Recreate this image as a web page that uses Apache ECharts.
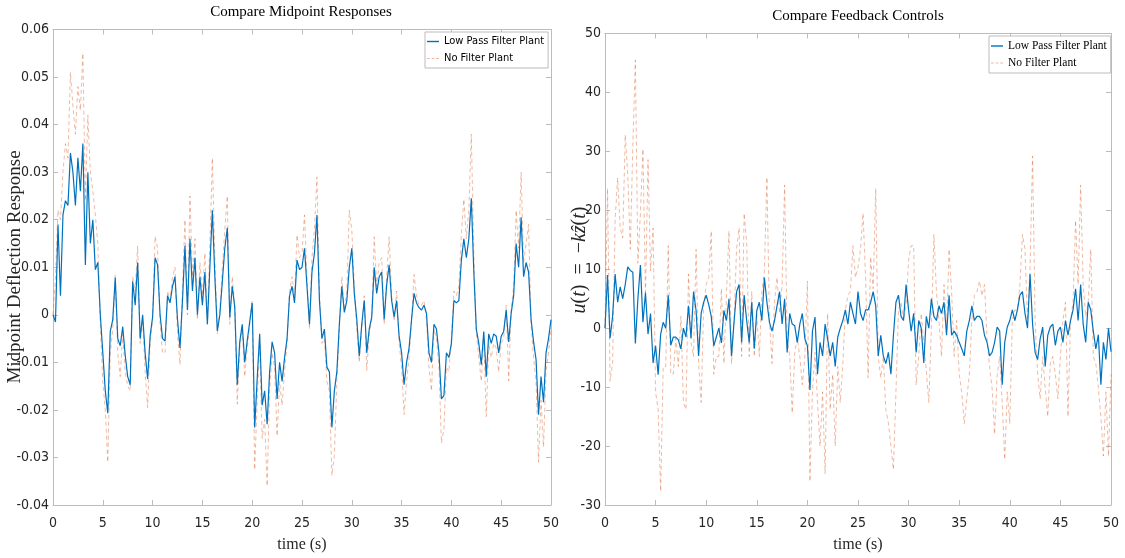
<!DOCTYPE html>
<html>
<head>
<meta charset="utf-8">
<script src="https://cdn.jsdelivr.net/npm/echarts@6/dist/echarts.min.js"></script>
<style>
  html, body { margin: 0; padding: 0; background: #fff; }
  #main { width: 1125px; height: 558px; }
</style>
</head>
<body>
<div id="main"></div>
<script>
// sample times (s), one every 0.25 s
var time = Array.from({ length: 201 }, function (_, i) { return i * 0.25; });

// left plot: midpoint deflection
var midLowPass = [
  0, -0.0015, 0.019, 0.004, 0.021, 0.024, 0.023, 0.034, 0.030, 0.023,
  0.033, 0.026, 0.036, 0.0105, 0.030, 0.015, 0.020, 0.0095, 0.011, 0,
  -0.008, -0.016, -0.0207, -0.0035, -0.001, 0.0078, -0.005, -0.0065, -0.0025, -0.0085,
  -0.013, -0.0147, 0.007, 0.002, 0.011, -0.005, 0, -0.008, -0.0135, -0.0045,
  -0.0005, 0.012, 0.0105, 0, -0.005, -0.0055, 0.004, 0.0025, 0.006, 0.008,
  -0.001, -0.007, 0.003, 0.0145, 0.001, 0.016, 0.005, 0.012, 0, 0.008,
  0.002, 0.009, -0.002, 0.010, 0.022, 0.008, -0.0034, 0, 0.007, 0.014,
  0.0183, -0.0005, 0.006, 0.0015, -0.0147, -0.0057, -0.002, -0.010, -0.0055, -0.0015,
  0.0025, -0.0237, -0.0135, -0.004, -0.019, -0.016, -0.023, -0.012, -0.0057, -0.008,
  -0.0177, -0.010, -0.014, -0.009, -0.005, 0.004, 0.006, 0.0025, 0.0115, 0.0095,
  0.010, 0.014, 0.006, -0.002, 0.009, 0.013, 0.021, 0.003, -0.005, -0.003,
  -0.011, -0.012, -0.0237, -0.016, -0.012, -0.002, 0.006, 0.0005, 0.003, 0.010,
  0.014, 0.0045, -0.001, -0.0087, -0.002, 0.003, -0.008, -0.003, -0.0005, 0.010,
  0.0045, 0.008, 0.009, -0.001, 0.0063, 0.0105, 0.003, -0.0005, 0.003, -0.0045,
  -0.008, -0.0147, -0.010, -0.007, -0.001, 0.0045, 0.0025, 0.0015, 0.001, 0.002,
  0.0003, -0.008, -0.010, -0.002, -0.003, -0.008, -0.0177, -0.017, -0.008, -0.009,
  -0.006, 0.003, 0.0025, 0.003, 0.0115, 0.016, 0.012, 0.016, 0.0245, 0.009,
  -0.003, -0.006, -0.0105, -0.0035, -0.013, -0.004, -0.006, -0.004, -0.0045, -0.008,
  -0.0045, -0.0035, 0.001, -0.0057, 0.0003, 0.004, 0.015, 0.010, 0.0205, 0.008,
  0.011, 0.009, -0.001, -0.0057, -0.0094, -0.021, -0.013, -0.0184, -0.008, -0.005, -0.001
];
var midNoFilter = [
  0, 0.008, 0.022, 0.020, 0.030, 0.036, 0.033, 0.051, 0.044, 0.038,
  0.048, 0.043, 0.055, 0.024, 0.042, 0.030, 0.026, 0.021, 0.015, -0.002,
  -0.014, -0.020, -0.031, -0.008, -0.003, 0.0085, -0.008, -0.013, -0.004, -0.012,
  -0.015, -0.016, 0.008, 0.005, 0.0145, -0.006, -0.001, -0.012, -0.0195, -0.006,
  -0.001, 0.0165, 0.014, -0.002, -0.008, -0.008, 0.005, 0.003, 0.008, 0.010,
  -0.004, -0.0105, 0.006, 0.020, 0, 0.025, 0.008, 0.016, -0.001, 0.011,
  0.004, 0.013, -0.002, 0.015, 0.033, 0.012, -0.004, 0.001, 0.010, 0.018,
  0.025, -0.002, 0.008, 0.002, -0.0188, -0.007, -0.003, -0.013, -0.007, -0.002,
  0.003, -0.0326, -0.018, -0.006, -0.026, -0.022, -0.036, -0.016, -0.008, -0.011,
  -0.0255, -0.014, -0.019, -0.012, -0.006, 0.005, 0.008, 0.004, 0.0168, 0.012,
  0.013, 0.021, 0.008, -0.003, 0.012, 0.018, 0.029, 0.005, -0.006, -0.005,
  -0.014, -0.016, -0.0338, -0.0296, -0.014, -0.003, 0.008, 0.001, 0.005, 0.022,
  0.018, 0.006, -0.003, -0.010, -0.003, 0.004, -0.0117, -0.004, -0.001, 0.0164,
  0.006, 0.011, 0.012, -0.002, 0.008, 0.0164, 0.004, -0.001, 0.005, -0.006,
  -0.011, -0.021, -0.014, -0.009, -0.001, 0.0085, 0.004, 0.002, 0.002, 0.003,
  -0.001, -0.011, -0.016, -0.003, -0.005, -0.011, -0.027, -0.024, -0.011, -0.012,
  -0.005, 0.005, 0.004, 0.006, 0.017, 0.0243, 0.016, 0.022, 0.038, 0.013,
  -0.004, -0.009, -0.014, -0.005, -0.0214, -0.006, -0.009, -0.006, -0.007, -0.012,
  -0.006, -0.005, 0.002, -0.0139, 0.001, 0.006, 0.022, 0.014, 0.030, 0.011,
  0.015, 0.019, -0.002, -0.009, -0.014, -0.031, -0.018, -0.0278, -0.012, -0.008, -0.003
];

// right plot: feedback control u(t)
var ctrlLowPass = [
  0, 9, -1.7, 2, 9.2, 4.4, 7, 5, 7.4, 10.4,
  9.8, 9.5, -2.6, 5, 10.7, 1, 6, -1, 2.5, -5.9,
  -3, -7.9, -1, 1, 0, 5.6, -2.9, -1.5, -1.5, -2,
  -3.5, 0, -1.5, 3.8, -1.7, 6.2, 3, -4.7, 2.5, 4.4,
  5.6, 4, 2, -3, -1.5, 0, -2.5, 3, 1.3, 5,
  -4.7, 1, 6.2, 7.4, -2.4, 5.6, 1.3, -2.4, 4.4, -3.5,
  3, 4.4, 1.3, 8.6, 4.4, 1, -0.5, 1.3, 3.8, 6.2,
  0.7, 5, -4.1, 2.5, 0.7, 0.4, -2.4, 0.7, 2.5, -1.8,
  -3, -10.5, -0.5, 1.9, -7.8, -2.4, -4.7, 0.7, -1.8, -4.7,
  -2.4, -6.5, -1.5, 0, 1.3, 3.1, 0.7, 4.4, 2.5, 0.7,
  6.2, 2.5, 1.3, 3.1, 3.1, 4.4, 6.2, 3.8, -4.7, -1.2,
  -4.7, -6, -4.1, -7.8, -1.2, 4.4, 5.6, 2, 1.3, 7.4,
  3.1, -0.5, 2.5, -4.1, 1.3, 0, -5.9, 2, 0, 5,
  2, 1.3, 3.8, 2.5, 4.4, -1.2, 5.6, -1.2, -0.5, -1.2,
  -2.4, -3.5, -4.7, -0.5, 1.3, 3.8, 1.3, 2, 2, 1.3,
  -1.2, -2.4, -4.7, -4.1, -2.4, 0.2, -0.5, -9.6, -2.4, 0.2,
  1.3, 3.1, 1.3, 3.1, 5.6, 6.2, 2.5, 0, 9.2, 0.7,
  -4.1, -5.3, -1.8, 0.2, -6.5, -1.2, 0.2, 0.7, -2.9, -0.5,
  0.2, -2.4, 1.3, -1.2, 1.3, 3.1, 6.7, 1.3, 7.4, 0.7,
  -2.4, 4.4, 3.1, -0.5, -3.5, -1.1, -9.6, -2.4, -5.3, 0, -4
];
var ctrlNoFilter = [
  0, 23.7, -9, -6, 18.3, 25.5, 17, 15.3, 32.8, 26,
  13.4, 31, 45.5, 11, 19.5, 30.4, 5.5, 28.6, 9.7, 17,
  -10.8, -13.8, -27.7, -6.5, -6.5, 14, -7.8, -7.8, -1.7, -6.5,
  2, -12.6, -13.8, 9.2, -2.4, -4.8, 13.4, -6, -12.6, 3.8,
  7.4, 8.6, 16.5, -7.8, -4.8, -4.8, 6.7, -6, 5.6, 16.5,
  -6, 1.3, 13.4, 17, -4.8, 19.5, 14.5, -4.8, 6.2, -4.8,
  2.5, -4.8, 6.2, 9.8, 25.6, 1.3, -6, 4.4, 8.6, 2.5,
  7.4, 24.3, -1.7, -4.8, -14.4, -4.1, -1.7, -4.8, -9.6, -4.8,
  8, -26, -10.8, -4.1, -12.6, -20, -10.8, -24.7, 2.5, -13.8,
  -7.8, -20, -6.5, -12.6, -6, 3.1, 5.5, 6.2, 14, 8.6,
  10.3, 13.4, 19.5, 8.6, -8.4, 12.1, 6.7, 23.7, -4.8, -8.4,
  -4.8, -13.8, -16, -20, -24, -10.8, 3.1, 4.4, 1.3, 3.8,
  11.6, 14, 14, -9.6, -4.8, 2.5, -2.4, -7.3, -12.6, 0.1,
  15.9, 6.2, 1.3, -4.8, 7.4, 0, 13.4, 6.2, -4.8, 1.3,
  -7.8, -10.8, -16.2, -12, -7.8, 1.3, 5.5, 6.2, 8, 5.5,
  7.4, -1.7, -6.5, -10.2, -18, -8, -4.8, -12.6, -22.3, -10.8,
  -16.2, 1.3, 3.1, 3.1, 7.4, 15.9, 13.4, 1.3, 10.3, 29.2,
  1.3, -7.8, -12, -4.8, -10.2, -15, -6, -4.8, -7.8, -12,
  -4.8, 1.3, 4.4, -15, 1.3, 4.4, 18.3, 7.4, 24.3, 7.4,
  2, 4.4, 13.4, -4.8, -6, -10, -15, -21.7, -10.8, -21.7, -7.8
];

var seriesNames = ['Low Pass Filter Plant', 'No Filter Plant'];
var titles = ['Compare Midpoint Responses', 'Compare Feedback Controls'];

var tickFont = "'DejaVu Sans Condensed', 'Liberation Sans', sans-serif";
var serif = "'Liberation Serif', 'DejaVu Serif', serif";
var axisGrey = '#bcbcbc';
var blue = '#0072BD';
var orange = '#D95319';
var paleOrange = '#efb8a0';

function pairs(vals) {
  return time.map(function (t, i) { return [t, vals[i]]; });
}

function xAxes(gi) {
  var base = {
    type: 'value', gridIndex: gi, min: 0, max: 50, interval: 5,
    axisLine: { show: true, onZero: false, lineStyle: { color: axisGrey } },
    axisTick: { show: true, inside: true, length: 5, lineStyle: { color: axisGrey } },
    splitLine: { show: false }
  };
  return [
    Object.assign({}, base, {
      position: 'bottom',
      axisLabel: { color: '#262626', fontFamily: tickFont, fontSize: 14, margin: 11 }
    }),
    Object.assign({}, base, { position: 'top', axisLabel: { show: false } })
  ];
}

function yAxes(gi, min, max, step, fmt) {
  var base = {
    type: 'value', gridIndex: gi, min: min, max: max, interval: step,
    axisLine: { show: true, onZero: false, lineStyle: { color: axisGrey } },
    axisTick: { show: true, inside: true, length: 5, lineStyle: { color: axisGrey } },
    splitLine: { show: false }
  };
  return [
    Object.assign({}, base, {
      position: 'left',
      axisLabel: { color: '#262626', fontFamily: tickFont, fontSize: 14, margin: 4, formatter: fmt }
    }),
    Object.assign({}, base, { position: 'right', axisLabel: { show: false } })
  ];
}

function lowSeries(xi, yi, vals) {
  return {
    name: seriesNames[0], type: 'line', xAxisIndex: xi, yAxisIndex: yi,
    data: pairs(vals), symbol: 'none', z: 3,
    lineStyle: { color: blue, width: 1.2 }, itemStyle: { color: blue }
  };
}
function noFilterSeries(xi, yi, vals) {
  return {
    name: seriesNames[1], type: 'line', xAxisIndex: xi, yAxisIndex: yi,
    data: pairs(vals), symbol: 'none', z: 2,
    lineStyle: { color: orange, width: 1, type: [4, 3], opacity: 0.4 },
    itemStyle: { color: paleOrange }
  };
}

// legend keys drawn as a short solid line and a short dashed line
var solidKey = 'path://M0,0h12v1.4h-12z';
var dashKey = 'path://M0,0h3v1h-3z M5,0h3v1h-3z M10,0h3v1h-3z';

function legendAt(left, top, font, size, gap) {
  return {
    data: [
      { name: seriesNames[0], icon: solidKey, itemStyle: { color: blue } },
      { name: seriesNames[1], icon: dashKey, itemStyle: { color: paleOrange } }
    ],
    orient: 'vertical', left: left, top: top,
    padding: [4, 4, 4, 2], itemGap: gap, itemWidth: 12, itemHeight: 14,
    borderColor: axisGrey, borderWidth: 1, borderRadius: 0, backgroundColor: '#fff',
    selectedMode: false,
    textStyle: { fontFamily: font, fontSize: size, color: '#000' }
  };
}

var chart = echarts.init(document.getElementById('main'), null, { renderer: 'canvas' });

var option = {
  animation: false,
  backgroundColor: '#fff',
  grid: [
    { left: 53, top: 29.5, width: 498, height: 475.5, outerBoundsMode: 'none', containLabel: false },
    { left: 605, top: 33.5, width: 506, height: 471.5, outerBoundsMode: 'none', containLabel: false }
  ],
  xAxis: xAxes(0).concat(xAxes(1)),
  yAxis: yAxes(0, -0.04, 0.06, 0.01, function (v) { return String(+v.toFixed(2)); })
    .concat(yAxes(1, -30, 50, 10)),
  legend: [
    legendAt(425, 32, tickFont, 11, 6),
    legendAt(989, 36, serif, 11.5, 5)
  ],
  series: [
    noFilterSeries(0, 0, midNoFilter),
    lowSeries(0, 0, midLowPass),
    noFilterSeries(2, 2, ctrlNoFilter),
    lowSeries(2, 2, ctrlLowPass)
  ],
  graphic: [
    { type: 'text', x: 301, y: 12, style: { text: titles[0], font: '15px ' + serif, fill: '#000', align: 'center', verticalAlign: 'middle' } },
    { type: 'text', x: 858, y: 16, style: { text: titles[1], font: '15px ' + serif, fill: '#000', align: 'center', verticalAlign: 'middle' } },
    { type: 'text', x: 302, y: 545, style: { text: 'time (s)', font: '16px ' + serif, fill: '#262626', align: 'center', verticalAlign: 'middle' } },
    { type: 'text', x: 858, y: 545, style: { text: 'time (s)', font: '16px ' + serif, fill: '#262626', align: 'center', verticalAlign: 'middle' } },
    { type: 'text', x: 15, y: 267, rotation: Math.PI / 2,
      style: { text: 'Midpoint Deflection Response', font: '19px ' + serif, fill: '#262626', align: 'center', verticalAlign: 'middle' } },
    { type: 'text', x: 580, y: 260, rotation: Math.PI / 2,
      style: {
        text: '{i|u}{n|(}{i|t}{n|)\u2002=\u2002\u2212}{i|k\u1E91}{n|(}{i|t}{n|)}',
        font: '20px ' + serif, fill: '#262626', align: 'center', verticalAlign: 'middle',
        rich: {
          i: { fontFamily: serif, fontSize: 20, fontStyle: 'italic', fill: '#262626' },
          n: { fontFamily: serif, fontSize: 20, fill: '#262626' }
        }
      } }
  ]
};

chart.setOption(option);
</script>
</body>
</html>
